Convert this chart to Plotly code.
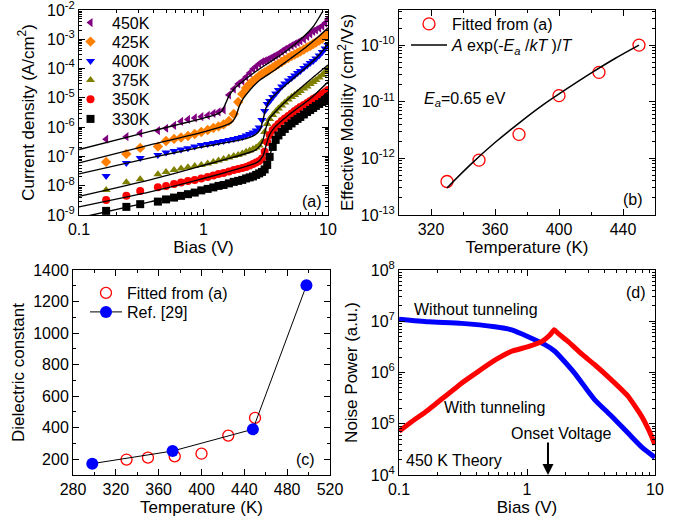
import plotly.graph_objects as go

FONT = "Arial, Liberation Sans, sans-serif"

# ---------------- Panel (a): J-V data ----------------
V_DATA = [0.165, 0.24, 0.31, 0.43, 0.50, 0.58, 0.66, 0.75, 0.85, 0.96,
          1.08, 1.2, 1.32, 1.45, 1.6, 1.75, 1.9, 2.05, 2.2, 2.35,
          2.5, 2.65, 2.8, 2.95, 3.1, 3.25, 3.4, 3.6, 3.8, 4.0,
          4.25, 4.5, 4.8, 5.1, 5.4, 5.7, 6.0, 6.4, 6.8, 7.2,
          7.6, 8.0, 8.5, 9.0, 9.5, 10.0]

J_450 = [3.86e-7, 4.74e-7, 6.19e-7, 7.60e-7, 9.16e-7, 1.14e-6, 1.57e-6, 1.83e-6, 2.06e-6, 2.28e-6,
         2.51e-6, 2.94e-6, 3.30e-6, 3.86e-6, 1.26e-5, 2.01e-5, 2.98e-5, 3.78e-5, 5.16e-5, 7.08e-5,
         9.68e-5, 1.18e-4, 1.44e-4, 1.68e-4, 1.82e-4, 1.97e-4, 2.21e-4, 2.49e-4, 2.80e-4, 3.15e-4,
         3.84e-4, 4.49e-4, 5.25e-4, 6.14e-4, 6.92e-4, 7.78e-4, 8.75e-4, 1.02e-3, 1.25e-3, 1.52e-3,
         1.85e-3, 2.08e-3, 2.43e-3, 2.84e-3, 3.60e-3, 4.93e-3]
J_425 = [6.49e-8, 1.22e-7, 1.95e-7, 2.16e-7, 3.38e-7, 3.96e-7, 4.45e-7, 5.01e-7, 5.86e-7, 6.86e-7,
         8.02e-7, 9.39e-7, 1.06e-6, 1.24e-6, 1.63e-6, 2.82e-6, 7.24e-6, 1.36e-5, 2.18e-5, 2.98e-5,
         3.78e-5, 4.59e-5, 5.59e-5, 6.54e-5, 7.36e-5, 8.28e-5, 9.31e-5, 1.09e-4, 1.28e-4, 1.44e-4,
         1.68e-4, 1.97e-4, 2.30e-4, 2.69e-4, 3.03e-4, 3.40e-4, 3.84e-4, 4.49e-4, 5.25e-4, 5.90e-4,
         6.92e-4, 7.78e-4, 9.10e-4, 1.06e-3, 1.30e-3, 1.64e-3]
J_400 = [2.16e-8, 6.00e-8, 8.89e-8, 1.12e-7, 1.35e-7, 1.54e-7, 1.73e-7, 1.91e-7, 2.16e-7, 2.47e-7,
         2.67e-7, 2.89e-7, 3.13e-7, 3.38e-7, 3.66e-7, 3.96e-7, 4.28e-7, 4.63e-7, 5.21e-7, 5.86e-7,
         6.59e-7, 7.71e-7, 9.77e-7, 1.76e-6, 3.57e-6, 6.19e-6, 7.84e-6, 1.07e-5, 1.41e-5, 1.86e-5,
         2.45e-5, 3.10e-5, 3.93e-5, 4.78e-5, 5.82e-5, 7.08e-5, 8.28e-5, 1.05e-4, 1.28e-4, 1.55e-4,
         1.82e-4, 2.21e-4, 2.80e-4, 3.69e-4, 4.85e-4, 6.38e-4]
J_375 = [7.19e-9, 1.30e-8, 1.67e-8, 2.47e-8, 2.96e-8, 3.46e-8, 3.89e-8, 4.28e-8, 4.74e-8, 5.13e-8,
         5.77e-8, 6.49e-8, 7.30e-8, 8.22e-8, 9.25e-8, 1.04e-7, 1.12e-7, 1.26e-7, 1.43e-7, 1.60e-7,
         1.80e-7, 2.03e-7, 2.37e-7, 3.13e-7, 6.86e-7, 1.29e-6, 1.91e-6, 2.61e-6, 3.44e-6, 4.35e-6,
         5.51e-6, 6.97e-6, 8.81e-6, 1.07e-5, 1.26e-5, 1.47e-5, 1.72e-5, 2.09e-5, 2.45e-5, 2.98e-5,
         3.49e-5, 4.08e-5, 4.97e-5, 6.05e-5, 7.66e-5, 9.68e-5]
J_350 = [3.27e-9, 4.49e-9, 6.65e-9, 8.89e-9, 9.84e-9, 1.15e-8, 1.28e-8, 1.46e-8, 1.58e-8, 1.77e-8,
         2.00e-8, 2.25e-8, 2.53e-8, 2.74e-8, 3.08e-8, 3.46e-8, 3.74e-8, 4.06e-8, 4.39e-8, 4.93e-8,
         5.55e-8, 6.24e-8, 7.02e-8, 8.55e-8, 1.43e-7, 3.13e-7, 5.42e-7, 8.02e-7, 1.02e-6, 1.29e-6,
         1.63e-6, 1.98e-6, 2.41e-6, 2.94e-6, 3.57e-6, 4.18e-6, 4.89e-6, 5.73e-6, 6.70e-6, 7.84e-6,
         9.17e-6, 1.03e-5, 1.16e-5, 1.36e-5, 1.59e-5, 1.86e-5]
J_330 = [1.38e-9, 1.89e-9, 2.34e-9, 2.86e-9, 3.40e-9, 3.93e-9, 4.49e-9, 5.13e-9, 5.82e-9, 6.92e-9,
         7.78e-9, 8.75e-9, 9.84e-9, 1.06e-8, 1.20e-8, 1.35e-8, 1.46e-8, 1.58e-8, 1.77e-8, 1.92e-8,
         2.07e-8, 2.34e-8, 2.63e-8, 2.96e-8, 3.60e-8, 5.13e-8, 9.62e-8, 2.11e-7, 3.66e-7, 5.21e-7,
         6.86e-7, 8.69e-7, 1.10e-6, 1.34e-6, 1.63e-6, 1.91e-6, 2.23e-6, 2.71e-6, 3.30e-6, 3.86e-6,
         4.52e-6, 5.30e-6, 6.19e-6, 7.24e-6, 8.47e-6, 1.03e-5]

# fitted curves (black lines)
FIT_V_450 = [0.1, 0.372, 1.237, 1.408, 1.488, 1.603, 1.758, 2.038, 2.593, 3.421, 4.515, 5.957, 7.577, 9.117]
FIT_J_450 = [1.73e-7, 7.13e-7, 2.61e-6, 3.57e-6, 5.73e-6, 1.16e-5, 2.01e-5, 3.49e-5, 7.66e-5, 1.68e-4, 3.69e-4, 9.46e-4, 2.63e-3, 9.25e-3]
FIT_V_425 = [0.1, 0.372, 0.937, 1.573, 1.725, 1.824, 1.928, 2.076, 2.363, 2.843, 3.752, 4.952, 6.535, 8.312, 10]
FIT_J_425 = [6.00e-8, 2.47e-7, 6.34e-7, 1.24e-6, 1.63e-6, 2.41e-6, 4.89e-6, 9.17e-6, 1.86e-5, 4.08e-5, 8.95e-5, 2.13e-4, 5.05e-4, 1.20e-3, 2.43e-3]
FIT_V_400 = [0.1, 0.372, 0.937, 2.154, 2.593, 2.843, 3.006, 3.177, 3.421, 4.117, 5.432, 7.168, 8.63, 10]
FIT_J_400 = [2.53e-8, 8.89e-8, 2.03e-7, 3.96e-7, 5.42e-7, 8.02e-7, 1.76e-6, 4.52e-6, 8.47e-6, 1.86e-5, 5.16e-5, 1.44e-4, 3.15e-4, 6.92e-4]
FIT_V_375 = [0.1, 0.372, 0.937, 2.593, 2.843, 3.006, 3.177, 3.421, 4.117, 5.432, 7.168, 10]
FIT_J_375 = [4.32e-9, 1.58e-8, 4.56e-8, 1.60e-7, 2.28e-7, 3.66e-7, 9.39e-7, 2.06e-6, 4.89e-6, 1.47e-5, 4.08e-5, 1.33e-4]
FIT_V_350 = [0.1, 0.372, 0.937, 2.741, 3.006, 3.177, 3.358, 3.752, 4.952, 7.168, 10]
FIT_J_350 = [1.89e-9, 6.14e-9, 1.64e-8, 6.49e-8, 1.04e-7, 2.28e-7, 5.01e-7, 1.02e-6, 2.82e-6, 9.17e-6, 3.49e-5]
FIT_V_330 = [0.1, 0.372, 0.937, 2.593, 3.006, 3.297, 3.550, 3.967, 4.952, 7.168, 10]
FIT_J_330 = [7.96e-10, 2.80e-9, 6.65e-9, 2.00e-8, 2.96e-8, 6.00e-8, 1.95e-7, 5.01e-7, 1.29e-6, 4.52e-6, 1.59e-5]

# ---------------- Panel (b): mobility ----------------
T_MOB = [330, 350, 375, 400, 425, 450]
MU_MOB = [3.9e-13, 9.3e-13, 2.65e-12, 1.28e-11, 3.3e-11, 1.0e-10]
T_MOB_FIT = [330, 345, 360, 375, 390, 405, 420, 435, 450]
MU_MOB_FIT = [3.0e-13, 7.9e-13, 1.9e-12, 4.2e-12, 8.8e-12, 1.7e-11, 3.2e-11, 5.8e-11, 1.0e-10]

# ---------------- Panel (c): dielectric constant ----------------
T_EPS = [330, 350, 375, 400, 425, 450]
EPS = [198, 210, 218, 235, 350, 462]
T_REF = [298, 373, 448, 498]
EPS_REF = [172, 252, 390, 1303]

# ---------------- Panel (d): noise power ----------------
V_NOISE_NO = [0.1, 0.169, 0.308, 0.561, 0.759, 1.02, 1.38, 1.65, 1.98, 2.37, 2.84, 3.40, 4.59, 6.19, 7.89, 10]
P_NOISE_NO = [1.1e7, 9.8e6, 9.1e6, 7.8e6, 6.8e6, 5.0e6, 3.5e6, 2.6e6, 1.6e6, 9.5e5, 5.2e5, 2.9e5, 1.4e5, 6.5e4, 3.5e4, 2.2e4]
V_NOISE_TUN = [0.1, 0.126, 0.169, 0.308, 0.561, 0.759, 1.02, 1.30, 1.51, 1.63, 1.75, 2.10, 2.67, 3.40, 4.59, 6.19, 7.89, 9.44, 10]
P_NOISE_TUN = [7.1e4, 1.1e5, 1.86e5, 6.2e5, 1.74e6, 2.6e6, 3.2e6, 4.0e6, 5.4e6, 6.8e6, 5.8e6, 4.0e6, 2.3e6, 1.4e6, 7.1e5, 3.4e5, 1.38e5, 5.6e4, 3.9e4]

LEG_A = ["450K", "425K", "400K", "375K", "350K", "330K"]

W, H = 683, 520


def px(x):
    return x / W


def py(y):
    return 1 - y / H


fig = go.Figure()
legends = {}


def make_legend(key, xpx, ypx, iw):
    legends[key] = dict(x=px(xpx), y=py(ypx), xanchor="left", yanchor="middle",
                        bgcolor="rgba(0,0,0,0)", borderwidth=0, itemwidth=iw,
                        font=dict(family=FONT, size=16, color="black"))


series = [
    (LEG_A[0], J_450, "#800080", "triangle-left", FIT_V_450, FIT_J_450),
    (LEG_A[1], J_425, "#FF8000", "diamond", FIT_V_425, FIT_J_425),
    (LEG_A[2], J_400, "#0000FF", "triangle-down", FIT_V_400, FIT_J_400),
    (LEG_A[3], J_375, "#808000", "triangle-up", FIT_V_375, FIT_J_375),
    (LEG_A[4], J_350, "#FF0000", "circle", FIT_V_350, FIT_J_350),
    (LEG_A[5], J_330, "#000000", "square", FIT_V_330, FIT_J_330),
]
leg_a_y = [22.7, 41.7, 61, 80, 99.3, 119]
for i, (name, J, col, sym, _, _) in enumerate(series):
    key = "legend" if i == 0 else "legend%d" % (i + 1)
    make_legend(key, 69, leg_a_y[i], 33)
    fig.add_trace(go.Scatter(x=V_DATA, y=J, mode="markers", name=name,
                             marker=dict(symbol=sym, color=col, size=8, line=dict(width=0)),
                             xaxis="x", yaxis="y", legend=key))
for name, _, _, _, fv, fj in series:
    fig.add_trace(go.Scatter(x=fv, y=fj, mode="lines", showlegend=False,
                             line=dict(color="black", width=1.4, shape="spline", smoothing=0.6),
                             xaxis="x", yaxis="y"))

# panel (b)
make_legend("legend7", 406, 24, 36)
make_legend("legend8", 406, 45, 36)
fig.add_trace(go.Scatter(x=T_MOB, y=MU_MOB, mode="markers", name="Fitted from (a)",
                         marker=dict(symbol="circle-open", color="#FF0000", size=12, line=dict(width=1.3)),
                         xaxis="x2", yaxis="y2", legend="legend7"))
fig.add_trace(go.Scatter(x=T_MOB_FIT, y=MU_MOB_FIT, mode="lines",
                         name="<i>A</i> exp(-<i>E</i><sub><i>a</i></sub> /<i>kT</i> )/<i>T</i>",
                         line=dict(color="black", width=1.5, shape="spline"),
                         xaxis="x2", yaxis="y2", legend="legend8"))

# panel (c)
make_legend("legend9", 85, 293, 32)
make_legend("legend10", 85, 312, 32)
fig.add_trace(go.Scatter(x=T_EPS, y=EPS, mode="markers", name="Fitted from (a)",
                         marker=dict(symbol="circle-open", color="#FF0000", size=11, line=dict(width=1.3)),
                         xaxis="x3", yaxis="y3", legend="legend9"))
fig.add_trace(go.Scatter(x=T_REF, y=EPS_REF, mode="lines+markers", name="Ref. [29]",
                         line=dict(color="black", width=1),
                         marker=dict(symbol="circle", color="#0000FF", size=12),
                         xaxis="x3", yaxis="y3", legend="legend10"))

# panel (d)
fig.add_trace(go.Scatter(x=V_NOISE_NO, y=P_NOISE_NO, mode="lines", showlegend=False,
                         line=dict(color="#0000FF", width=5, shape="spline", smoothing=0.5),
                         xaxis="x4", yaxis="y4"))
fig.add_trace(go.Scatter(x=V_NOISE_TUN, y=P_NOISE_TUN, mode="lines", showlegend=False,
                         line=dict(color="#FF0000", width=5, shape="spline", smoothing=0.35),
                         xaxis="x4", yaxis="y4"))


def base_axis(**kw):
    d = dict(showline=True, linecolor="black", linewidth=1, mirror="ticks",
             ticks="inside", ticklen=6, tickwidth=1, tickcolor="black",
             showgrid=False, zeroline=False, automargin=False, ticklabeloverflow="allow",
             tickfont=dict(family=FONT, size=16, color="black"))
    d.update(kw)
    return d


def log_minor():
    return dict(ticks="inside", ticklen=3, tickwidth=1, tickcolor="black", dtick="D1", showgrid=False)


def lin_minor(step):
    return dict(ticks="inside", ticklen=3, tickwidth=1, tickcolor="black", dtick=step, showgrid=False)


def sup(e):
    return "10<sup>%d</sup>" % e


TITLE_FONT = dict(family=FONT, size=17, color="black")

dom_ax = [px(79), px(328)]
dom_bx = [px(399), px(655)]
dom_cx = [px(73), px(330)]
dom_top = [py(215), py(10)]
dom_bot = [py(475), py(270)]

fig.update_layout(
    width=W, height=H, margin=dict(l=0, r=0, t=0, b=0),
    paper_bgcolor="white", plot_bgcolor="white",
    font=dict(family=FONT, size=16, color="black"),
    xaxis=base_axis(domain=dom_ax, anchor="y", type="log", range=[-1.0005, 1.0005],
                    tickvals=[0.1, 1, 10], ticktext=["0.1", "1", "10"], minor=log_minor(),
                    title=dict(text="Bias (V)", font=TITLE_FONT, standoff=2)),
    yaxis=base_axis(domain=dom_top, anchor="x", type="log", range=[-9.001, -1.999],
                    tickvals=[10.0 ** e for e in range(-9, -1)], ticktext=[sup(e) for e in range(-9, -1)],
                    minor=log_minor(),
                    title=dict(text="Current density (A/cm<sup>2</sup>)", font=TITLE_FONT, standoff=8)),
    xaxis2=base_axis(domain=dom_bx, anchor="y2", range=[300, 460],
                     tickvals=[320, 360, 400, 440], minor=lin_minor(20),
                     title=dict(text="Temperature (K)", font=TITLE_FONT, standoff=2)),
    yaxis2=base_axis(domain=dom_top, anchor="x2", type="log", range=[-13.001, -9.38],
                     tickvals=[1e-13, 1e-12, 1e-11, 1e-10], ticktext=[sup(e) for e in range(-13, -9)],
                     minor=log_minor(),
                     title=dict(text="Effective Mobility (cm<sup>2</sup>/Vs)", font=TITLE_FONT, standoff=2)),
    xaxis3=base_axis(domain=dom_cx, anchor="y3", range=[280, 520],
                     tickvals=[280, 320, 360, 400, 440, 480, 520], minor=lin_minor(20),
                     title=dict(text="Temperature (K)", font=TITLE_FONT, standoff=2)),
    yaxis3=base_axis(domain=dom_bot, anchor="x3", range=[100, 1400],
                     tickvals=[200, 400, 600, 800, 1000, 1200, 1400], minor=lin_minor(100),
                     title=dict(text="Dielectric constant", font=TITLE_FONT, standoff=4)),
    xaxis4=base_axis(domain=dom_bx, anchor="y4", type="log", range=[-1.0005, 1.0005],
                     tickvals=[0.1, 1, 10], ticktext=["0.1", "1", "10"], minor=log_minor(),
                     title=dict(text="Bias (V)", font=TITLE_FONT, standoff=2)),
    yaxis4=base_axis(domain=dom_bot, anchor="x4", type="log", range=[3.999, 8.001],
                     tickvals=[1e4, 1e5, 1e6, 1e7, 1e8], ticktext=[sup(e) for e in range(4, 9)],
                     minor=log_minor(),
                     title=dict(text="Noise Power (a.u.)", font=TITLE_FONT, standoff=8)),
    **legends,
)

ann = []


def text(x, y, s, xanchor="center"):
    ann.append(dict(x=px(x), y=py(y), xref="paper", yref="paper", text=s, showarrow=False,
                    xanchor=xanchor, yanchor="middle", font=dict(family=FONT, size=16, color="black")))


text(312, 202, "(a)")
text(633, 200, "(b)")
text(305, 459, "(c)")
text(636, 292, "(d)")
text(465, 99, "<i>E</i><sub><i>a</i></sub>=0.65 eV")
text(476, 309, "Without tunneling")
text(494, 407, "With tunneling")
text(561, 433, "Onset Voltage")
text(454, 460, "450 K Theory")

# onset arrow (data coordinates on log axes use log10 values)
ann.append(dict(x=0.164, y=4.0, xref="x4", yref="y4", ax=0, ay=-34, axref="pixel", ayref="pixel",
                showarrow=True, arrowhead=2, arrowsize=1.1, arrowwidth=2, arrowcolor="black", text=""))

fig.update_layout(annotations=ann)

fig.write_html("out.html", config={"displayModeBar": False},
               post_script="document.body.style.margin='0';document.body.style.padding='0';"
                           "document.body.style.overflow='hidden';")
